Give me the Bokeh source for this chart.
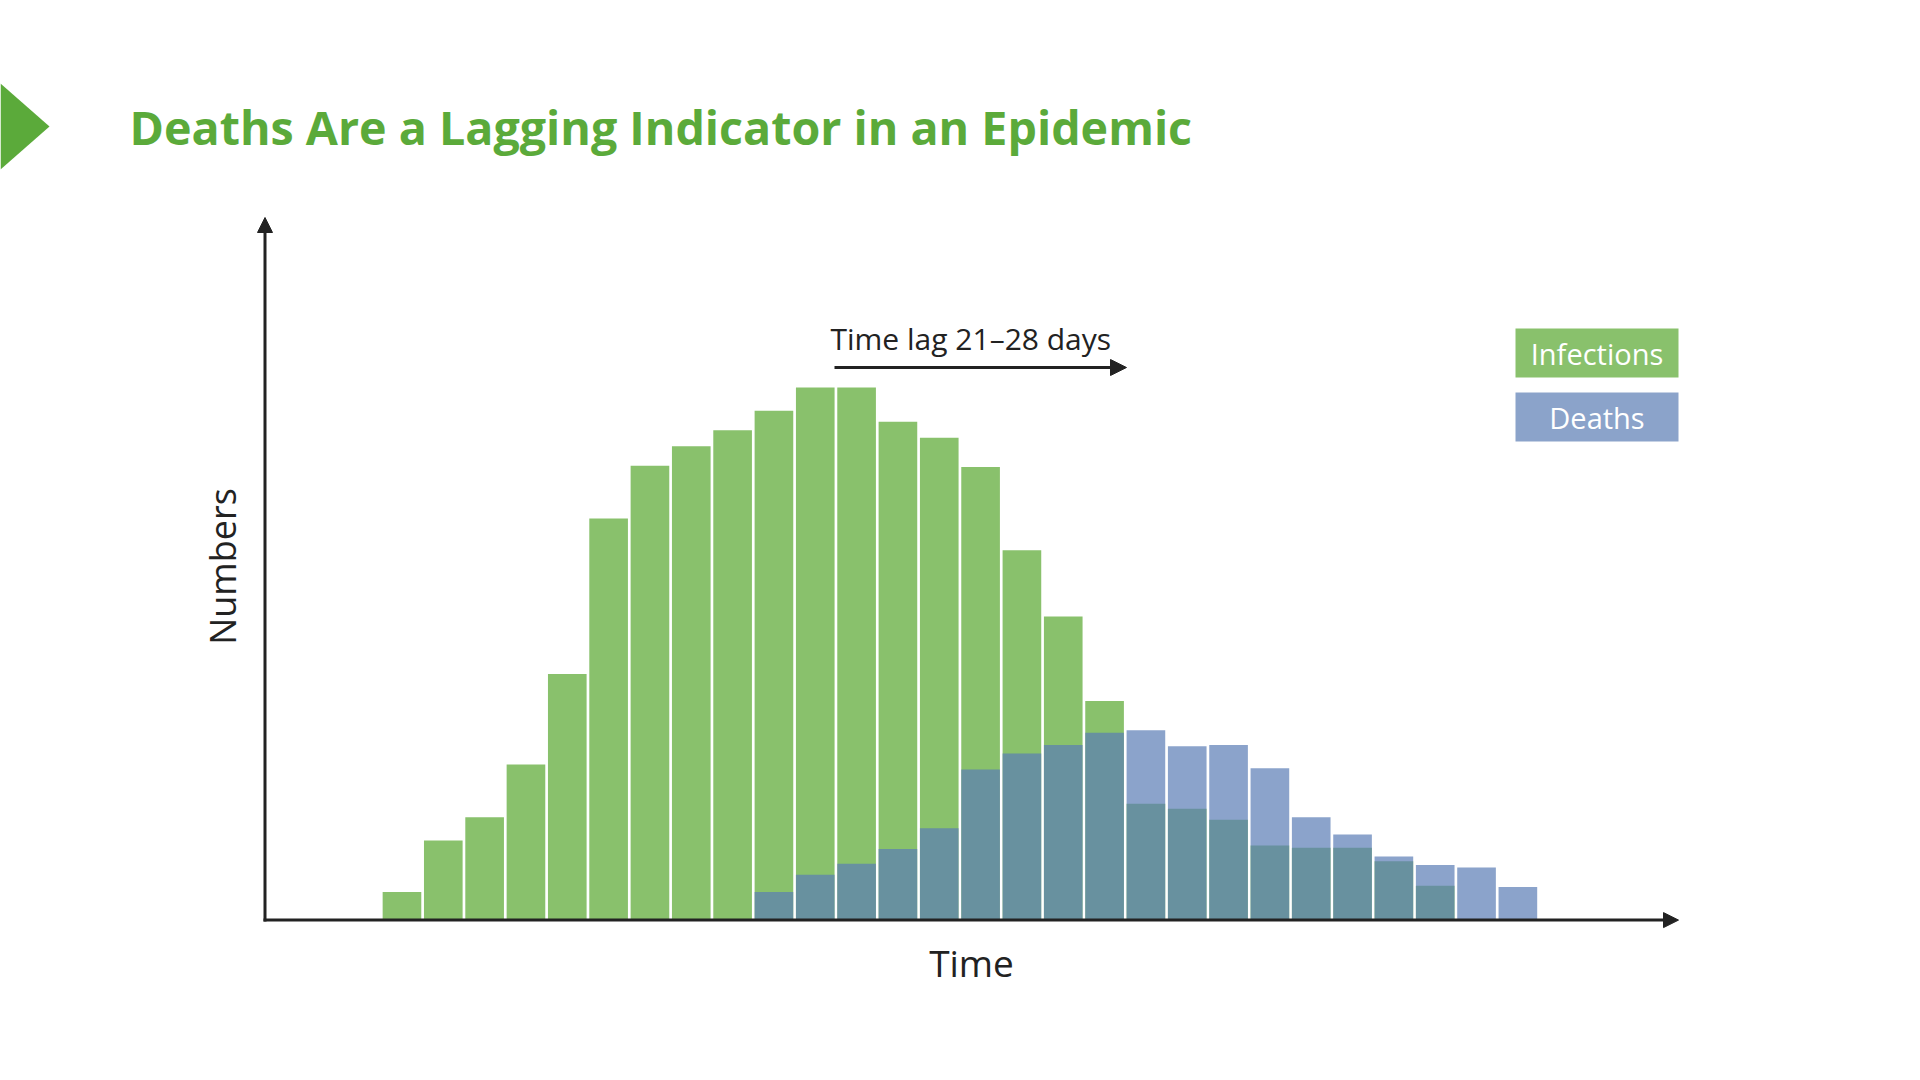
from bokeh.plotting import figure
from bokeh.models import Range1d, Label, Arrow, NormalHead, ColumnDataSource
from bokeh.embed import file_html
from bokeh.resources import INLINE
import math

# ---- data (arbitrary units) ----
periods = list(range(28))
infections = [23, 65, 84, 127, 201, 328, 371, 387, 400, 416, 435, 435, 407, 394,
              370, 302, 248, 179, 95, 91, 82, 61, 59, 59, 48, 28, 0, 0]
deaths = [0, 0, 0, 0, 0, 0, 0, 0, 0, 23, 37, 46, 58, 75, 123, 136, 143, 153,
          155, 142, 143, 124, 84, 70, 52, 45, 43, 27]
series_labels = ["Infections", "Deaths"]
title_text = "Deaths Are a Lagging Indicator in an Epidemic"
lag_text = "Time lag 21\u201328 days"
x_label = "Time"
y_label = "Numbers"

# ---- layout (page pixel coordinates) ----
W, H = 1904, 1060
BASE_Y = 919.6          # y of the baseline
AXIS_X = 264.5          # x of the y axis
SLOT0 = 380.8           # x of left edge of first bar slot
SLOT_W = 41.33          # pixel width of one slot
VAL_PX = 1.2245         # pixels per value unit

GREEN = "#89C16C"
BLUE_LIGHT = "#8BA3CA"
BLUE = "#5A7CB5"
TITLE_GREEN = "#5BAA3A"
DARK = "#222222"
FONT = "Open Sans"

p = figure(width=W, height=H, output_backend="svg", toolbar_location=None,
           x_range=Range1d(0, W), y_range=Range1d(H, 0),
           x_axis_location=None, y_axis_location=None, min_border=0)
p.outline_line_color = None
p.grid.visible = False
p.background_fill_color = "white"
p.border_fill_color = "white"

# bar ranges mapped through the frame
p.extra_x_ranges = {"bars": Range1d(-SLOT0 / SLOT_W - 0.5, (W - SLOT0) / SLOT_W - 0.5)}
p.extra_y_ranges = {"bars": Range1d(-(H - BASE_Y) / VAL_PX, BASE_Y / VAL_PX)}

src = ColumnDataSource(dict(x=periods, inf=infections, dea=deaths))
p.vbar(x="x", top="inf", bottom=0, width=0.935, source=src,
       fill_color=GREEN, line_color=None,
       x_range_name="bars", y_range_name="bars")
p.vbar(x="x", top="dea", bottom=0, width=0.935, source=src,
       fill_color=BLUE, fill_alpha=0.7, line_color=None,
       x_range_name="bars", y_range_name="bars")

# axes with arrowheads
p.add_layout(Arrow(x_start=AXIS_X, y_start=BASE_Y + 1.5, x_end=AXIS_X, y_end=217,
                   line_color=DARK, line_width=3,
                   end=NormalHead(size=15, fill_color=DARK, line_color=DARK)))
p.add_layout(Arrow(x_start=AXIS_X - 1.5, y_start=BASE_Y, x_end=1678, y_end=BASE_Y,
                   line_color=DARK, line_width=3,
                   end=NormalHead(size=15, fill_color=DARK, line_color=DARK)))

# time lag arrow
p.add_layout(Arrow(x_start=834, y_start=367, x_end=1126, y_end=367,
                   line_color=DARK, line_width=3,
                   end=NormalHead(size=16, fill_color=DARK, line_color=DARK)))
p.add_layout(Label(x=830, y=338, text=lag_text, text_font=FONT, text_font_size="30px",
                   text_color=DARK, text_baseline="middle", text_align="left"))

# axis labels
p.add_layout(Label(x=971, y=962, text=x_label, text_font=FONT, text_font_size="37px",
                   text_color=DARK, text_baseline="middle", text_align="center"))
p.add_layout(Label(x=222, y=566, text=y_label, text_font=FONT, text_font_size="36px",
                   text_color=DARK, text_baseline="middle", text_align="center",
                   angle=math.pi / 2))

# legend boxes
p.quad(left=[1515, 1515], right=[1678, 1678], top=[328, 392], bottom=[377, 441],
       fill_color=[GREEN, BLUE_LIGHT], line_color=None)
p.add_layout(Label(x=1596.5, y=353, text=series_labels[0], text_font=FONT,
                   text_font_size="29px", text_color="white",
                   text_baseline="middle", text_align="center"))
p.add_layout(Label(x=1596.5, y=417, text=series_labels[1], text_font=FONT,
                   text_font_size="29px", text_color="white",
                   text_baseline="middle", text_align="center"))

# title and decoration triangle
p.patch(x=[0, 49, 0], y=[83, 126, 169], fill_color=TITLE_GREEN, line_color=None)
p.add_layout(Label(x=129, y=126, text=title_text, text_font=FONT, text_font_size="46.6px",
                   text_font_style="bold", text_color=TITLE_GREEN,
                   text_baseline="middle", text_align="left"))

open("out.html", "w").write(file_html(p, INLINE))
